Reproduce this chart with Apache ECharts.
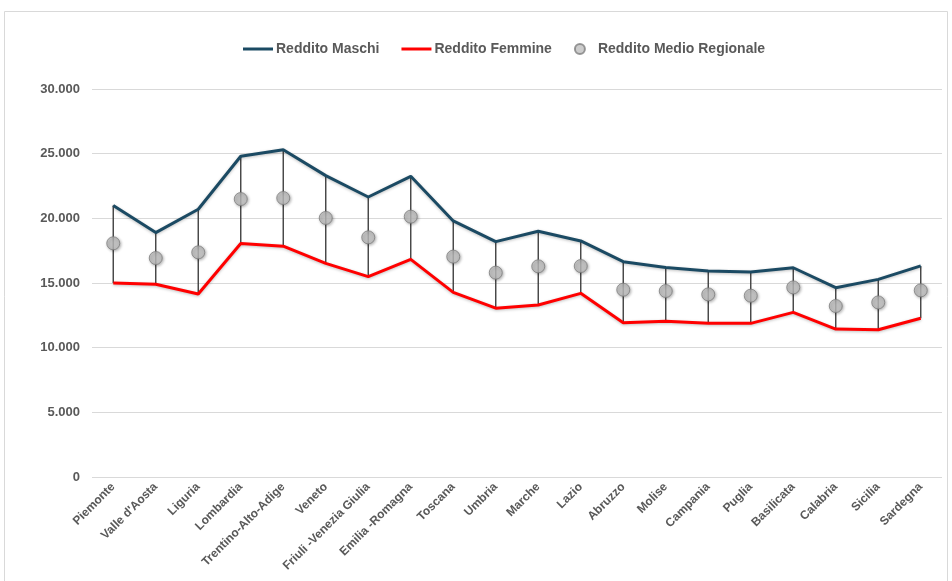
<!DOCTYPE html>
<html><head><meta charset="utf-8">
<script src="https://cdn.jsdelivr.net/npm/echarts@6/dist/echarts.min.js"></script>
<style>html,body{margin:0;padding:0;background:#fff}#c{width:952px;height:581px}</style>
</head><body><div id="c"></div>
<script>
const regions = ['Piemonte',"Valle d'Aosta",'Liguria','Lombardia','Trentino-Alto-Adige','Veneto','Friuli -Venezia Giulia','Emilia -Romagna','Toscana','Umbria','Marche','Lazio','Abruzzo','Molise','Campania','Puglia','Basilicata','Calabria','Sicilia','Sardegna'];
const redditoMaschi = [21000,18900,20700,24800,25300,23300,21650,23250,19800,18200,19000,18250,16650,16200,15930,15850,16180,14640,15280,16320];
const redditoFemmine = [15000,14900,14150,18050,17850,16520,15490,16830,14280,13050,13300,14200,11930,12040,11880,11880,12730,11440,11390,12270];
const redditoMedio = [18070,16930,17370,21490,21570,20030,18530,20130,17040,15800,16290,16310,14480,14380,14120,14020,14660,13220,13500,14430];
const yTicks = [0,5000,10000,15000,20000,25000,30000];

const fmt = v => String(v).replace(/\B(?=(\d{3})+(?!\d))/g, '.');
const FONT = 'Liberation Sans Narrow, Liberation Sans, sans-serif';
const lineIcon = 'path://M0,0 L30,0 L30,3 L0,3 Z';
const chart = echarts.init(document.getElementById('c'), null, {renderer:'canvas'});
chart.setOption({
  animation:false,
  backgroundColor:'#fff',
  graphic:[{type:'rect',shape:{x:4.5,y:11.5,width:943,height:600},style:{fill:'none',stroke:'#d9d9d9',lineWidth:1},silent:true,z:-10}],
  legend:{
    top:37,left:238,itemGap:22,itemWidth:30,itemHeight:10,symbolKeepAspect:true,
    textStyle:{fontFamily:FONT,fontSize:14,fontWeight:'bold',color:'#595959',padding:[0,0,0,-2]},
    data:[
      {name:'Reddito Maschi',icon:lineIcon},
      {name:'Reddito Femmine',icon:lineIcon},
      {name:'Reddito Medio Regionale',icon:'circle'}
    ]
  },
  grid:{left:92,right:10,top:89,bottom:104,containLabel:false},
  xAxis:{
    type:'category',data:regions,boundaryGap:true,
    axisLine:{show:false},axisTick:{show:false},
    axisLabel:{interval:0,rotate:45,fontFamily:'Liberation Sans, sans-serif',fontSize:12,fontWeight:'bold',color:'#595959',margin:8}
  },
  yAxis:{
    type:'value',min:yTicks[0],max:yTicks[yTicks.length-1],interval:5000,
    axisLine:{show:false},axisTick:{show:false},
    splitLine:{lineStyle:{color:'#d9d9d9',width:1}},
    axisLabel:{formatter:fmt,fontFamily:'Liberation Sans, sans-serif',fontSize:13,fontWeight:'bold',color:'#595959',margin:12}
  },
  series:[
    {
      type:'custom',name:'hilo',z:1,silent:true,
      data:regions.map((r,i)=>[i,redditoFemmine[i],redditoMaschi[i]]),
      encode:{x:0,y:[1,2]},
      renderItem:function(params,api){
        const a=api.coord([api.value(0),api.value(1)]);
        const b=api.coord([api.value(0),api.value(2)]);
        return {type:'line',shape:{x1:a[0],y1:a[1],x2:b[0],y2:b[1]},style:{stroke:'#404040',lineWidth:1.4}};
      }
    },
    {
      type:'line',name:'Reddito Maschi',data:redditoMaschi,symbol:'none',z:3,
      lineStyle:{color:'#1b4a63',width:3,shadowColor:'rgba(0,0,0,0.25)',shadowBlur:3,shadowOffsetY:1},
      itemStyle:{color:'#1b4a63'}
    },
    {
      type:'line',name:'Reddito Femmine',data:redditoFemmine,symbol:'none',z:3,
      lineStyle:{color:'#ff0000',width:3,shadowColor:'rgba(0,0,0,0.25)',shadowBlur:3,shadowOffsetY:1},
      itemStyle:{color:'#ff0000'}
    },
    {
      type:'scatter',name:'Reddito Medio Regionale',data:redditoMedio,symbol:'circle',symbolSize:13,z:5,
      itemStyle:{color:'#bfbfbf',borderColor:'#7f7f7f',borderWidth:1,shadowColor:'rgba(0,0,0,0.35)',shadowBlur:3,shadowOffsetX:1,shadowOffsetY:1}
    }
  ]
});
</script></body></html>
